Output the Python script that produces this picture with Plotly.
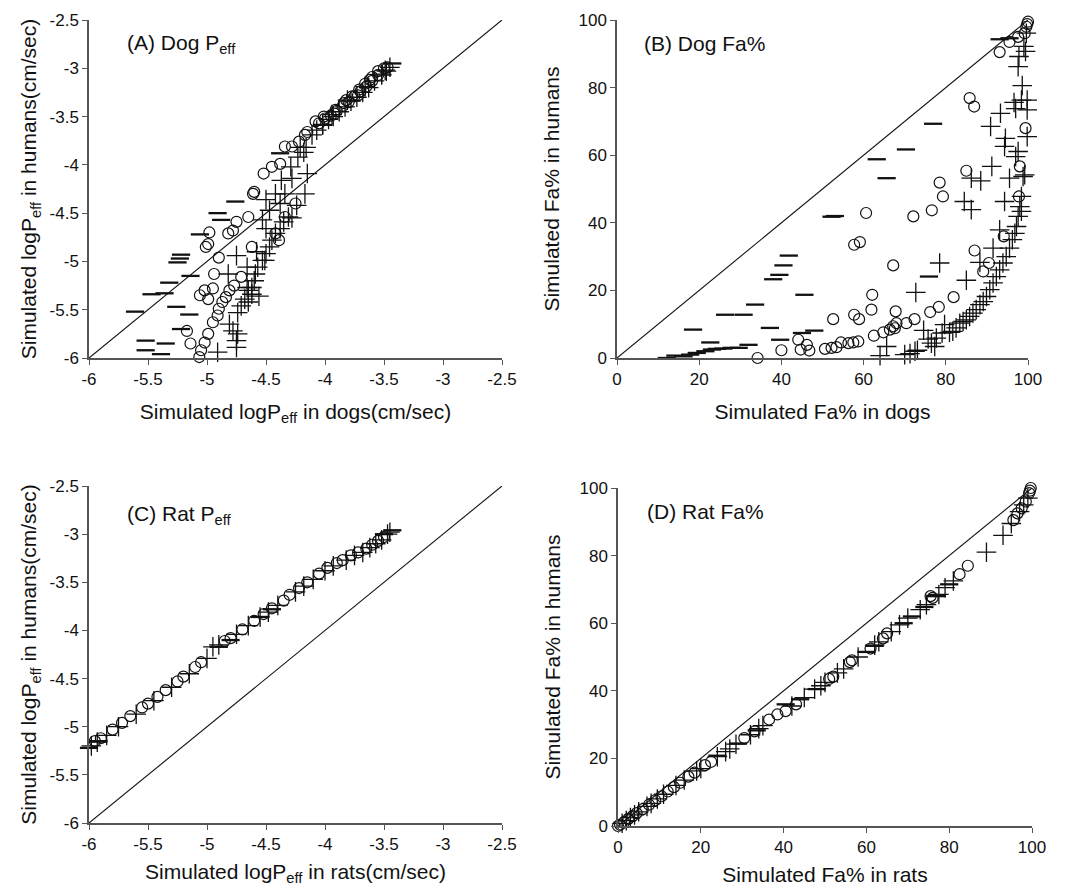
import plotly.graph_objects as go

# ---------------- Panel A: Dog Peff (log) ----------------
a_dash_x = [-5.61, -5.52, -5.52, -5.47, -5.39, -5.35, -5.36, -5.32, -5.25, -5.23, -5.22, -5.26, -5.15, -5.14,
            -5.22, -5.06, -4.91, -4.88, -4.76, -4.38, -3.43]
a_dash_y = [-5.52, -5.82, -5.92, -5.34, -5.96, -5.85, -5.33, -5.22, -5.01, -4.97, -4.93, -5.47, -5.55, -5.15,
            -5.70, -4.72, -4.50, -4.57, -4.38, -3.88, -2.95]

a_circ_x = [-5.065, -5.05, -5.14, -5.17, -5.02, -4.99, -4.95, -4.91, -4.90, -4.87, -4.84, -4.81, -4.77, -4.71,
            -4.94, -4.95, -5.02, -5.06, -4.99, -4.90, -5.01, -4.99, -4.98, -4.82, -4.78, -4.75, -4.65, -4.62,
            -4.60, -4.61, -4.52, -4.45, -4.38, -4.34, -4.28, -4.25, -4.34, -4.22, -4.17, -4.15, -4.08, -4.01,
            -3.91, -3.84, -3.77, -3.71, -3.66, -3.60, -3.55, -3.50, -4.42, -4.39,
            -4.05, -4.00, -3.95, -3.90, -3.85, -3.80, -3.75, -3.70, -3.65, -3.60, -3.55, -3.47, -3.62, -3.72,
            -3.82, -3.92]
a_circ_y = [-5.99, -5.92, -5.85, -5.72, -5.84, -5.75, -5.63, -5.56, -5.49, -5.42, -5.37, -5.30, -5.25, -5.16,
            -5.13, -5.28, -5.30, -5.35, -5.39, -4.96, -4.85, -4.82, -4.70, -4.71, -4.68, -4.59, -4.54, -4.85,
            -4.28, -4.30, -4.09, -4.02, -3.99, -3.81, -3.81, -4.40, -4.54, -3.76, -3.69, -3.66, -3.55, -3.50,
            -3.43, -3.36, -3.29, -3.22, -3.16, -3.09, -3.03, -3.00, -4.71, -4.78,
            -3.57, -3.52, -3.49, -3.44, -3.39, -3.35, -3.29, -3.24, -3.19, -3.13, -3.07, -2.99, -3.12, -3.28,
            -3.33, -3.47]

a_plus_x = [-4.91, -4.75, -4.75, -4.74, -4.78, -4.81, -4.74, -4.71, -4.68, -4.65, -4.65, -4.62, -4.62, -4.60,
            -4.59, -4.57, -4.53, -4.50, -4.47, -4.45, -4.42, -4.38, -4.35, -4.31, -4.28, -4.58, -4.51, -4.66,
            -4.75, -4.82, -4.56, -4.66, -4.50, -4.47, -4.53, -4.50, -4.42, -4.34, -4.37, -4.38, -4.28, -4.17,
            -4.15, -4.24, -4.29, -4.23, -4.18, -4.21, -4.11, -4.07, -4.16, -4.02, -3.94, -3.81, -3.66, -3.52,
            -3.49, -4.02, -3.97, -3.88, -3.78, -3.68, -3.58, -3.52, -3.48, -3.45, -3.63, -3.73, -3.83, -3.93]
a_plus_y = [-5.94, -5.89, -5.82, -5.75, -5.72, -5.65, -5.53, -5.46, -5.39, -5.42, -5.30, -5.27, -5.34, -5.20,
            -5.13, -5.06, -4.99, -4.92, -4.85, -4.78, -4.71, -4.66, -4.59, -4.54, -4.55, -4.90, -4.99, -5.06,
            -4.94, -5.13, -5.36, -5.27, -4.36, -4.47, -4.57, -4.66, -4.30, -4.30, -4.16, -4.40, -4.14, -4.30,
            -4.09, -4.42, -4.02, -3.92, -3.87, -3.82, -3.69, -3.64, -3.82, -3.59, -3.48, -3.33, -3.19, -3.07,
            -3.02, -3.58, -3.53, -3.45, -3.34, -3.25, -3.13, -3.06, -3.03, -2.99, -3.20, -3.30, -3.40, -3.50]

# ---------------- Panel B: Dog Fa% ----------------
b_dash_x = [12.1, 14.2, 16.2, 17.8, 19.4, 21.5, 23.1, 24.3, 25.9, 27.9, 29.6, 32.0, 22.7, 18.5, 26.3, 30.8,
            33.6, 37.2, 38.0, 39.5, 40.5, 41.8, 39.7, 45.6, 45.0, 48.0, 52.2, 53.0, 63.2, 65.6, 70.3, 76.9,
            75.9, 93.1, 95.5]
b_dash_y = [0.0, 0.7, 0.5, 1.0, 1.5, 2.0, 2.5, 2.7, 2.8, 3.0, 3.0, 3.9, 4.6, 8.4, 12.8, 12.8,
            15.8, 8.9, 23.3, 24.6, 27.4, 30.3, 5.4, 18.7, 7.4, 8.1, 41.8, 42.0, 58.8, 53.2, 61.7, 69.3,
            24.1, 94.3, 94.6]

b_circ_x = [34.2, 40.0, 44.1, 44.7, 46.8, 46.2, 50.6, 52.2, 53.4, 54.5, 56.3, 57.5, 58.7, 52.6, 57.7, 58.9,
            60.6, 57.7, 59.1, 62.1, 61.9, 62.5, 64.8, 66.4, 67.2, 68.0, 67.6, 67.8, 67.2, 70.4, 72.4, 72.1,
            76.6, 76.2, 78.3, 78.5, 79.3, 81.9, 85.0, 85.8, 86.9, 87.0, 89.1, 90.5, 94.1, 95.5, 93.1, 97.6,
            97.8, 98.0, 99.4, 99.2, 99.6, 100.0, 99.8]
b_circ_y = [0.0, 2.3, 5.4, 2.5, 2.2, 3.9, 2.7, 3.0, 3.2, 4.6, 4.4, 4.6, 4.9, 11.5, 12.8, 11.5,
            42.9, 33.5, 34.3, 18.7, 14.3, 6.6, 7.6, 8.4, 9.4, 10.3, 8.8, 13.8, 27.4, 10.3, 11.5, 41.9,
            43.7, 13.6, 15.1, 51.9, 47.8, 18.0, 55.4, 76.9, 74.4, 31.8, 25.6, 28.1, 36.0, 93.5, 90.5, 95.0,
            47.8, 56.7, 68.0, 96.1, 98.0, 99.5, 98.8]

b_plus_x = [64.0, 65.6, 70.0, 71.3, 72.5, 73.1, 72.7, 74.6, 75.7, 76.5, 77.3, 77.7, 78.5, 79.1, 79.7, 80.9,
            81.7, 82.5, 83.4, 84.2, 85.0, 85.8, 86.6, 87.4, 88.3, 89.1, 89.9, 90.7, 91.5, 92.3, 93.1, 93.9,
            94.7, 95.5, 96.2, 96.8, 97.2, 97.6, 98.0, 98.4, 98.8, 85.0, 86.2, 84.5, 86.2, 88.5, 91.2, 88.3,
            91.5, 93.1, 94.3, 95.5, 97.0, 90.9, 93.3, 94.5, 94.3, 97.0, 96.6, 98.4, 99.8, 99.8, 98.6, 97.6,
            97.8, 99.4, 99.8, 99.2, 98.4, 97.6, 99.0, 99.6]
b_plus_y = [0.7, 3.4, 1.0, 1.3, 2.0, 2.3, 19.4, 8.2, 5.6, 4.4, 3.4, 5.9, 28.1, 7.4, 9.9, 7.6,
            7.9, 8.9, 10.3, 10.8, 11.3, 12.3, 13.3, 14.3, 15.8, 16.7, 18.2, 20.2, 22.2, 24.1, 26.1, 28.1,
            30.0, 32.5, 35.0, 36.9, 38.9, 41.9, 44.8, 47.8, 53.7, 23.0, 43.9, 46.3, 53.2, 52.4, 56.7, 28.3,
            32.5, 37.9, 46.3, 53.2, 59.6, 68.5, 72.4, 65.0, 62.6, 73.8, 75.6, 76.3, 76.3, 73.4, 80.6, 86.2,
            89.2, 90.7, 65.5, 54.2, 43.4, 61.1, 92.2, 96.1]

# ---------------- Panel C: Rat Peff (log) ----------------
c_dash_x = [-6.00, -5.92, -4.90, -4.80, -4.55, -4.45, -3.50, -3.43]
c_dash_y = [-5.22, -5.15, -4.17, -4.10, -3.86, -3.78, -3.00, -2.96]

c_circ_x = [-5.95, -5.90, -5.80, -5.72, -5.65, -5.55, -5.50, -5.42, -5.35, -5.25, -5.20, -5.10, -5.05, -4.85,
            -4.80, -4.70, -4.60, -4.52, -4.45, -4.35, -4.30, -4.22, -4.15, -4.05, -3.98, -3.90, -3.85, -3.78,
            -3.72, -3.65, -3.60, -3.55, -3.50]
c_circ_y = [-5.15, -5.12, -5.03, -4.96, -4.89, -4.80, -4.76, -4.69, -4.62, -4.53, -4.48, -4.38, -4.33, -4.11,
            -4.08, -3.99, -3.90, -3.83, -3.77, -3.69, -3.63, -3.56, -3.50, -3.41, -3.35, -3.30, -3.27, -3.22,
            -3.19, -3.15, -3.11, -3.07, -3.03]

c_plus_x = [-5.98, -5.93, -5.85, -5.75, -5.60, -5.45, -5.30, -5.15, -5.00, -4.95, -4.90, -4.75, -4.65, -4.55,
            -4.48, -4.40, -4.25, -4.18, -4.10, -4.00, -3.93, -3.82, -3.75, -3.68, -3.62, -3.57, -3.52, -3.47,
            -3.45]
c_plus_y = [-5.20, -5.16, -5.09, -5.00, -4.87, -4.73, -4.59, -4.45, -4.29, -4.17, -4.15, -4.04, -3.95, -3.86,
            -3.81, -3.74, -3.60, -3.54, -3.47, -3.38, -3.33, -3.27, -3.22, -3.19, -3.14, -3.10, -3.06, -3.00,
            -2.98]

# ---------------- Panel D: Rat Fa% ----------------
d_dash_x = [24.0, 29.0, 33.5, 40.5, 44.0, 48.0, 60.0, 62.0, 69.0, 71.0, 74.0, 77.0, 80.0]
d_dash_y = [20.8, 24.4, 28.3, 36.0, 37.5, 40.5, 51.5, 53.3, 60.0, 62.0, 64.8, 68.0, 71.5]

d_circ_x = [0.0, 0.5, 1.5, 2.5, 3.5, 4.5, 6.0, 7.5, 9.0, 10.5, 12.0, 13.5, 15.0, 17.0, 18.5, 21.0, 22.5,
            30.5, 33.0, 36.5, 38.5, 40.5, 43.0, 51.0, 52.0, 56.0, 56.5, 61.0, 64.0, 65.0, 75.5, 76.0, 82.5,
            84.5, 95.5, 96.5, 97.5, 98.5, 99.3, 99.7, 99.5]
d_circ_y = [0.0, 0.4, 1.2, 2.1, 2.9, 3.8, 5.0, 6.3, 7.6, 8.8, 10.2, 11.5, 12.8, 14.6, 15.8, 18.0, 19.0,
            26.0, 28.0, 31.5, 33.0, 34.0, 36.0, 43.5, 44.2, 48.5, 49.0, 52.5, 55.5, 57.0, 68.0, 67.5, 74.5,
            77.0, 90.5, 92.5, 94.0, 96.0, 98.5, 100.0, 99.2]

d_plus_x = [1.0, 2.0, 3.0, 4.0, 5.0, 7.0, 8.0, 9.5, 11.0, 14.0, 16.0, 19.0, 20.0, 24.0, 26.0, 27.0, 28.5,
            32.0, 34.0, 35.0, 42.0, 45.0, 47.5, 49.0, 50.0, 53.0, 54.5, 58.0, 62.0, 63.0, 66.0, 68.0, 70.0,
            73.0, 74.5, 77.5, 79.0, 81.0, 89.0, 93.0, 95.0, 97.0, 98.0, 99.0]
d_plus_y = [0.8, 1.6, 2.5, 3.3, 4.2, 5.8, 6.7, 8.0, 9.4, 12.0, 13.6, 16.3, 17.0, 20.5, 22.0, 22.8, 24.2,
            27.0, 28.8, 29.7, 35.5, 38.0, 40.5, 41.5, 42.5, 45.3, 46.5, 50.0, 53.5, 54.5, 57.5, 59.5, 61.5,
            64.0, 65.5, 68.5, 70.5, 72.5, 81.0, 86.0, 89.5, 93.0, 95.0, 97.0]

# ---------------- axes / labels ----------------
log_ticks = [-6, -5.5, -5, -4.5, -4, -3.5, -3, -2.5]
log_ticktext = ["-6", "-5.5", "-5", "-4.5", "-4", "-3.5", "-3", "-2.5"]
pct_ticks = [0, 20, 40, 60, 80, 100]
pct_ticktext = ["0", "20", "40", "60", "80", "100"]
log_range = [-6, -2.5]
pct_range = [0, 100]

panels = [
    dict(name="(A) Dog P<sub>eff</sub>", ax="x", ay="y",
         xt="Simulated logP<sub>eff</sub> in dogs(cm/sec)", yt="Simulated logP<sub>eff</sub> in humans(cm/sec)",
         dash=(a_dash_x, a_dash_y), circ=(a_circ_x, a_circ_y), plus=(a_plus_x, a_plus_y), log=True),
    dict(name="(B) Dog Fa%", ax="x2", ay="y2",
         xt="Simulated Fa% in dogs", yt="Simulated Fa% in humans",
         dash=(b_dash_x, b_dash_y), circ=(b_circ_x, b_circ_y), plus=(b_plus_x, b_plus_y), log=False),
    dict(name="(C) Rat P<sub>eff</sub>", ax="x3", ay="y3",
         xt="Simulated logP<sub>eff</sub> in rats(cm/sec)", yt="Simulated logP<sub>eff</sub> in humans(cm/sec)",
         dash=(c_dash_x, c_dash_y), circ=(c_circ_x, c_circ_y), plus=(c_plus_x, c_plus_y), log=True),
    dict(name="(D) Rat Fa%", ax="x4", ay="y4",
         xt="Simulated Fa% in rats", yt="Simulated Fa% in humans",
         dash=(d_dash_x, d_dash_y), circ=(d_circ_x, d_circ_y), plus=(d_plus_x, d_plus_y), log=False),
]

# page has an 8px body margin: figure is sized to fit the 1070x894 window exactly
OFF = 8
W, H = 1070 - 2 * OFF, 894 - 2 * OFF
# plot-area boxes in window pixels (left, right, top, bottom)
boxes = [(89, 502, 20, 358), (617, 1028, 20, 358), (89, 502, 486, 823), (618, 1032, 488, 826)]
x_standoff = [16, 16, 26, 29]
y_standoff = [7, 13, 7, 13]

FONT = "Liberation Sans, Arial, sans-serif"
INK = "#111"
fig = go.Figure()
layout = dict(width=W, height=H, margin=dict(l=0, r=0, t=0, b=0), autosize=False,
              paper_bgcolor="white", plot_bgcolor="white", showlegend=False,
              font=dict(family=FONT, color=INK))

for i, p in enumerate(panels):
    rng = log_range if p["log"] else pct_range
    ticks = log_ticks if p["log"] else pct_ticks
    ttext = log_ticktext if p["log"] else pct_ticktext
    fig.add_trace(go.Scatter(x=rng, y=rng, mode="lines", line=dict(color=INK, width=1.1),
                             xaxis=p["ax"], yaxis=p["ay"], hoverinfo="skip"))
    fig.add_trace(go.Scatter(x=p["dash"][0], y=p["dash"][1], mode="markers", xaxis=p["ax"], yaxis=p["ay"],
                             marker=dict(symbol="line-ew-open", size=13, color=INK,
                                         line=dict(width=2.3, color=INK)), cliponaxis=False))
    fig.add_trace(go.Scatter(x=p["circ"][0], y=p["circ"][1], mode="markers", xaxis=p["ax"], yaxis=p["ay"],
                             marker=dict(symbol="circle-open", size=11, color=INK,
                                         line=dict(width=1.2, color=INK)), cliponaxis=False))
    fig.add_trace(go.Scatter(x=p["plus"][0], y=p["plus"][1], mode="markers", xaxis=p["ax"], yaxis=p["ay"],
                             marker=dict(symbol="cross-thin-open", size=14, color=INK,
                                         line=dict(width=1.3, color=INK)), cliponaxis=False))

    l, r, t, b = [v - OFF for v in boxes[i]]
    suffix = "" if i == 0 else str(i + 1)
    common = dict(range=rng, tickvals=ticks, ticktext=ttext, showgrid=False, zeroline=False,
                  showline=True, linecolor="#555", linewidth=1.5, ticks="outside", ticklen=5,
                  tickcolor="#555", tickwidth=1.2, tickfont=dict(size=17, family=FONT, color=INK),
                  fixedrange=True, automargin=False)
    layout["xaxis" + suffix] = dict(common, domain=[l / W, r / W], anchor="y" + suffix,
                                    title=dict(text=p["xt"], font=dict(size=21, family=FONT, color=INK),
                                               standoff=x_standoff[i]))
    layout["yaxis" + suffix] = dict(common, domain=[1 - b / H, 1 - t / H], anchor="x" + suffix,
                                    title=dict(text=p["yt"], font=dict(size=21, family=FONT, color=INK),
                                               standoff=y_standoff[i]))

fig.update_layout(**layout)

label_pos = [(0.087, 0.93), (0.061, 0.93), (0.087, 0.914), (0.065, 0.929)]
for i, p in enumerate(panels):
    suffix = "" if i == 0 else str(i + 1)
    fig.add_annotation(text=p["name"], xref="x" + suffix + " domain", yref="y" + suffix + " domain",
                       x=label_pos[i][0], y=label_pos[i][1], xanchor="left", yanchor="middle",
                       showarrow=False, font=dict(size=21, family=FONT, color=INK))

fig.write_html("out.html")
